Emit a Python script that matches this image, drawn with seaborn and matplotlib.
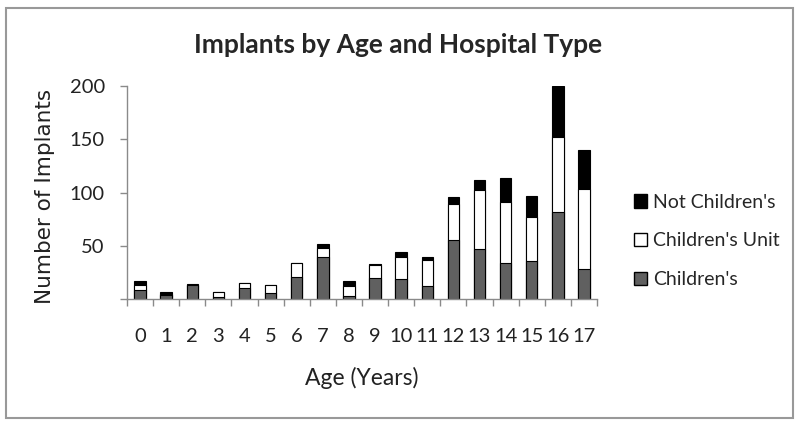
import pandas as pd
import matplotlib.pyplot as plt
from matplotlib.patches import Patch, Rectangle
import seaborn as sns

sns.set_style("white")
plt.rcParams['font.family'] = ['Lato', 'DejaVu Sans']

# =============================================================================
# Data
# =============================================================================
ages = [str(a) for a in range(18)]
childrens = [8, 4, 13, 2, 10, 6, 21, 39, 3, 20, 19, 12, 55, 47, 34, 36, 82, 28]
childrens_unit = [5, 1, 0, 5, 5, 7, 13, 9, 9, 12, 20, 25, 34, 55, 57, 41, 70, 75]
not_childrens = [4, 2, 1, 0, 0, 0, 0, 4, 5, 1, 5, 2, 7, 10, 23, 20, 48, 37]
yticks = [0, 50, 100, 150, 200]
ytick_labels = ['', '50', '100', '150', '200']

df = pd.DataFrame({'Age': ages,
                   "Children's": childrens,
                   "Children's Unit": childrens_unit,
                   "Not Children's": not_childrens})
df['unit_top'] = df["Children's"] + df["Children's Unit"]
df['total'] = df['unit_top'] + df["Not Children's"]

grey = '#606060'
axis_col = '#8a8a8a'

fig = plt.figure(figsize=(8, 4.26), dpi=100)
ax = fig.add_axes([127/800, 1-299/426, 470/800, 213/426])

# stacked bars: draw totals first, overlay the lower segments
bar_kw = dict(data=df, x='Age', order=ages, edgecolor='black', linewidth=0.8,
              width=0.44, saturation=1, errorbar=None, ax=ax)
sns.barplot(y='total', color='black', **bar_kw)
sns.barplot(y='unit_top', color='white', **bar_kw)
sns.barplot(y="Children's", color=grey, **bar_kw)

ax.set_xlim(-0.5, 17.5)
ax.set_ylim(0, 200)
ax.set_yticks(yticks)
ax.set_yticklabels(ytick_labels)
ax.set_xticks([i - 0.5 for i in range(19)], minor=True)

for s in ['top', 'right']:
    ax.spines[s].set_visible(False)
for s in ['left', 'bottom']:
    ax.spines[s].set_color(axis_col)
    ax.spines[s].set_linewidth(1)

ax.tick_params(axis='y', length=5, width=1, color=axis_col, pad=11,
               labelsize=14.5, labelcolor='#222222', direction='out', left=True)
ax.tick_params(axis='x', which='major', length=0, pad=21,
               labelsize=14.5, labelcolor='#222222')
ax.tick_params(axis='x', which='minor', length=5, width=1, color=axis_col,
               direction='out', bottom=True)

ax.set_ylabel('Number of Implants', family='DejaVu Sans', fontsize=15.5,
              color='#222222')
ax.yaxis.set_label_coords(-0.153, 0.48)
ax.set_xlabel('Age (Years)', fontsize=16.5, color='#222222')
ax.xaxis.set_label_coords(0.5, -0.32)

fig.text(398/800, 1-45/426, 'Implants by Age and Hospital Type',
         ha='center', va='center', fontsize=19, fontweight='bold')

handles = [Patch(facecolor='black', edgecolor='black', label="Not Children's"),
           Patch(facecolor='white', edgecolor='black', label="Children's Unit"),
           Patch(facecolor=grey, edgecolor='black', label="Children's")]
fig.legend(handles=handles, loc='center left',
           bbox_to_anchor=(624/800, 1-241/426), frameon=False,
           fontsize=14, labelspacing=1.12, handlelength=0.7,
           handleheight=0.7, handletextpad=0.3, borderpad=0)

fig.patches.append(Rectangle((6/800, 8/426), 787/800, 410/426,
                             transform=fig.transFigure, fill=False,
                             edgecolor='#999999', linewidth=1.5))

plt.savefig('out.png', dpi=100)
